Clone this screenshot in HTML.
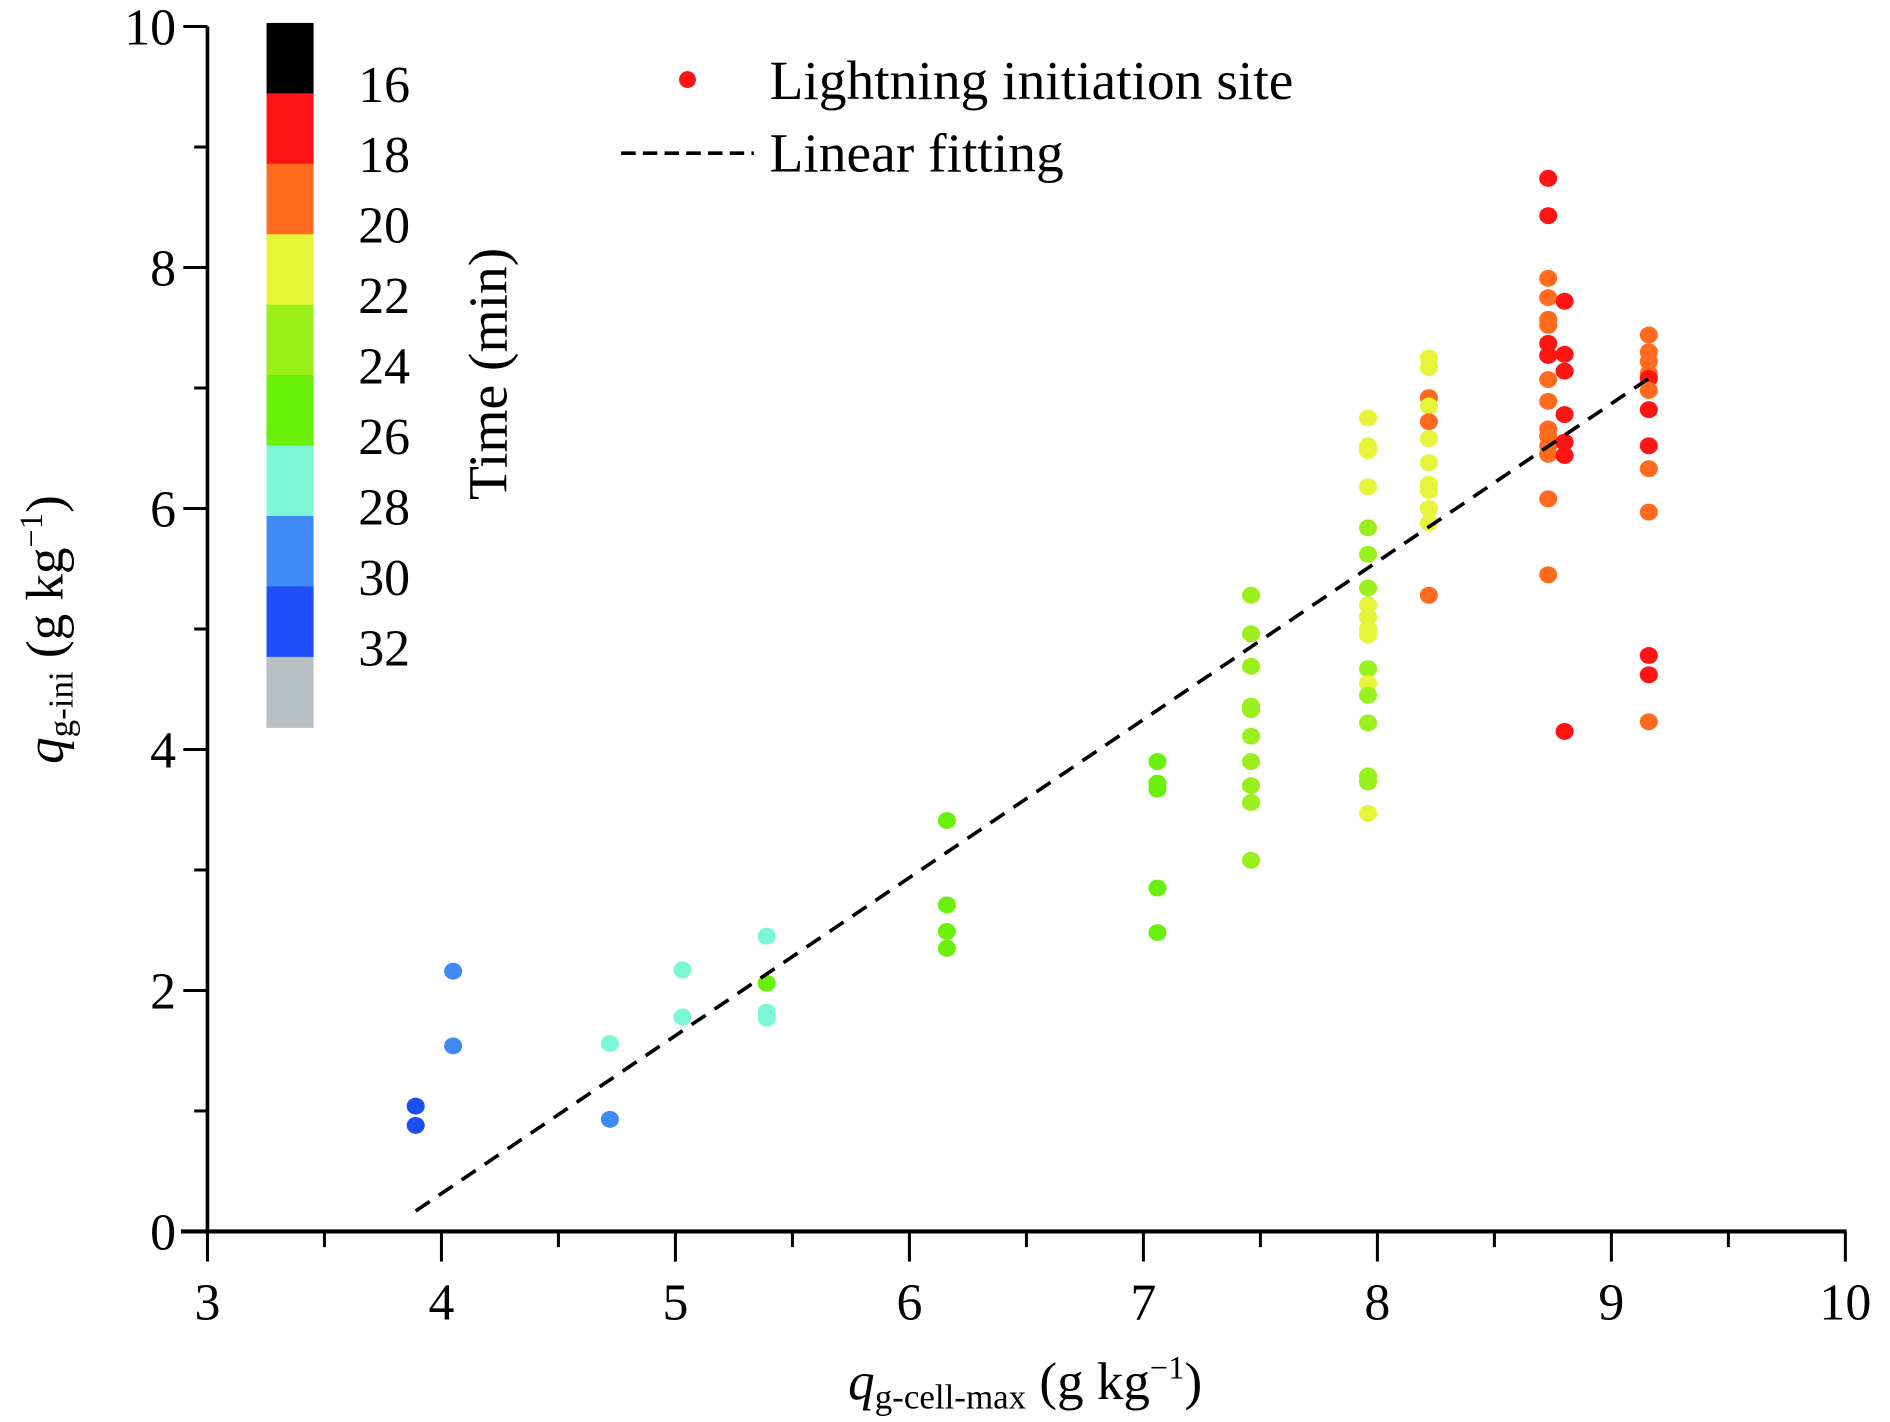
<!DOCTYPE html>
<html><head><meta charset="utf-8"><style>
html,body{margin:0;padding:0;background:#fff;}
svg{display:block;font-family:"Liberation Serif","DejaVu Serif",serif;}
</style></head><body>
<svg id="chart" width="1890" height="1422" viewBox="0 0 1567 1179" preserveAspectRatio="none" xmlns="http://www.w3.org/2000/svg"></svg>
<script>
const xValues = [3.89,3.89, 4.05,4.05, 4.72,4.72, 5.03,5.03, 5.39,5.39,5.39,5.39,
 6.16,6.16,6.16,6.16, 7.06,7.06,7.06,7.06,7.06,
 7.46,7.46,7.46,7.46,7.46,7.46,7.46,7.46,7.46,7.46,
 7.96,7.96,7.96,7.96,7.96,7.96,7.96,7.96,7.96,7.96,7.96,7.96,7.96,7.96,7.96,7.96,7.96,7.96,
 8.22,8.22,8.22,8.22,8.22,8.22,8.22,8.22,8.22,8.22,8.22,8.22,
 8.73,8.73,8.73,8.73,8.73,8.73,8.73,8.73,8.73,8.73,8.73,8.73,8.73,8.73,8.73,8.73,
 8.80,8.80,8.80,8.80,8.80,8.80,8.80,
 9.16,9.16,9.16,9.16,9.16,9.16,9.16,9.16,9.16,9.16,9.16,9.16,9.16];
const yValues = [1.04,0.88, 2.16,1.54, 1.56,0.93, 2.17,1.78, 2.45,2.06,1.82,1.77,
 3.41,2.71,2.49,2.35, 3.90,3.72,3.67,2.85,2.48,
 5.28,4.96,4.69,4.36,4.33,4.11,3.90,3.70,3.56,3.08,
 6.75,6.52,6.48,6.18,5.84,5.62,5.34,5.20,5.10,5.00,4.95,4.67,4.55,4.45,4.22,3.78,3.73,3.47,
 7.25,7.17,6.92,6.85,6.72,6.58,6.38,6.20,6.15,6.00,5.88,5.28,
 8.74,8.43,7.91,7.75,7.57,7.52,7.37,7.27,7.07,6.89,6.66,6.60,6.52,6.45,6.08,5.45,
 7.72,7.28,7.14,6.78,6.55,6.44,4.15,
 7.44,7.30,7.22,7.12,7.08,6.98,6.82,6.52,6.33,5.97,4.78,4.62,4.23];
const timeValues = [32,32, 30,30, 28,30, 28,28, 28,26,28,28,
 26,26,26,26, 26,26,26,26,26,
 24,24,24,24,24,24,24,24,24,24,
 22,22,22,22,24,24,24,22,22,22,22,24,22,24,24,24,24,22,
 22,22,20,22,20,22,22,22,22,22,22,20,
 18,18,20,20,20,20,18,18,20,20,20,20,20,20,20,20,
 18,18,18,18,18,18,18,
 20,20,20,20,18,20,18,18,20,20,18,18,20];
const fitX = [3.89, 9.16];
const fitY = [0.17, 7.08];
const xTicks = [3,4,5,6,7,8,9,10];
const yTicks = [0,2,4,6,8,10];
const cbLabels = [16,18,20,22,24,26,28,30,32];
const cbColors = ['#000000','#ff1414','#ff6a1e','#e6f53a','#99f01c','#6af00a','#7cf7d6','#3f8af5','#1e4ef5','#b7c0c4'];
const colorOf = {16:'#000000',18:'#ff1414',20:'#ff6a1e',22:'#e6f53a',24:'#99f01c',26:'#6af00a',28:'#7cf7d6',30:'#3f8af5',32:'#1e4ef5'};

const NS='http://www.w3.org/2000/svg';
const svg=document.getElementById('chart');
const X0=172,X1=1530,Y0=1021,Y1=22;
const sx=v=>X0+(v-3)/7*(X1-X0);
const sy=v=>Y0-(v-0)/10*(Y0-Y1);
function mk(tag,attrs,parent){const e=document.createElementNS(NS,tag);for(const k in attrs)e.setAttribute(k,attrs[k]);(parent||svg).appendChild(e);return e;}

const pg=mk('g',{});


for(let i=0;i<xValues.length;i++){
  const c=mk('ellipse',{cx:sx(xValues[i]),cy:sy(yValues[i]),rx:7.5,ry:7,fill:colorOf[timeValues[i]]},pg);
  
  
}
const fl=mk('line',{x1:sx(fitX[0]),y1:sy(fitY[0]),x2:sx(fitX[1]),y2:sy(fitY[1]),stroke:'#000','stroke-width':3,'stroke-dasharray':'14,9'});



const ax=mk('g',{stroke:'#000'});


mk('line',{x1:X0-22,y1:Y0,x2:X1+1,y2:Y0,'stroke-width':3.5},ax);
mk('line',{x1:X0,y1:Y0,x2:X0,y2:Y1,'stroke-width':3},ax);
for(let v=3;v<=10.001;v+=0.5){const x=sx(v);const maj=Math.abs(v-Math.round(v))<0.01;mk('line',{x1:x,y1:Y0,x2:x,y2:Y0+(maj?25:13),'stroke-width':2.5},ax);}
for(let v=0;v<=10.001;v+=1){const y=sy(v);const maj=v%2===0;mk('line',{x1:X0,y1:y,x2:X0-(maj?20:11),y2:y,'stroke-width':2.5},ax);}
xTicks.forEach(v=>{const t=mk('text',{x:sx(v),y:1094,'font-size':43,'text-anchor':'middle'});t.textContent=v;
 });
yTicks.forEach(v=>{const t=mk('text',{x:146,y:sy(v)+15,'font-size':43,'text-anchor':'end'});t.textContent=v;
 });

const cb=mk('g',{});


const cbTop=19,cbH=58.4;
cbColors.forEach((c,i)=>{mk('rect',{x:221,y:cbTop+i*cbH,width:39,height:cbH+0.5,fill:c},cb);});
cbLabels.forEach((v,i)=>{const t=mk('text',{x:297,y:cbTop+(i+1)*cbH+7,'font-size':43},cb);t.textContent=v;
 });
const ct=mk('text',{x:0,y:0,'font-size':46,'text-anchor':'middle',transform:'translate(420,310) rotate(-90)'},cb);
ct.textContent='Time (min)';


</script>
<svg style="position:absolute;left:0;top:0" width="1890" height="1422" viewBox="0 0 1567 1179" preserveAspectRatio="none" xmlns="http://www.w3.org/2000/svg" font-family="Liberation Serif, DejaVu Serif, serif">
 <g>
  <circle cx="570" cy="66" r="7" fill="#ff1414"/>
  <text x="638" y="82" font-size="46">Lightning initiation site</text>
  <line x1="515" y1="127" x2="625" y2="127" stroke="#000" stroke-width="3" stroke-dasharray="12,6"/>
  <text x="638" y="142" font-size="46">Linear fitting</text>
 </g>
 <text x="850" y="1160" font-size="44" text-anchor="middle"><tspan font-style="italic">q</tspan><tspan font-size="29" dy="8">g-cell-max</tspan><tspan dy="-8"> (g kg</tspan><tspan font-size="27" dy="-17">−1</tspan><tspan dy="17">)</tspan></text>
 <text transform="translate(52,522) rotate(-90)" font-size="44" text-anchor="middle"><tspan font-style="italic">q</tspan><tspan font-size="29" dy="8">g-ini</tspan><tspan dy="-8"> (g kg</tspan><tspan font-size="27" dy="-17">−1</tspan><tspan dy="17">)</tspan></text>
</svg>
</body></html>
